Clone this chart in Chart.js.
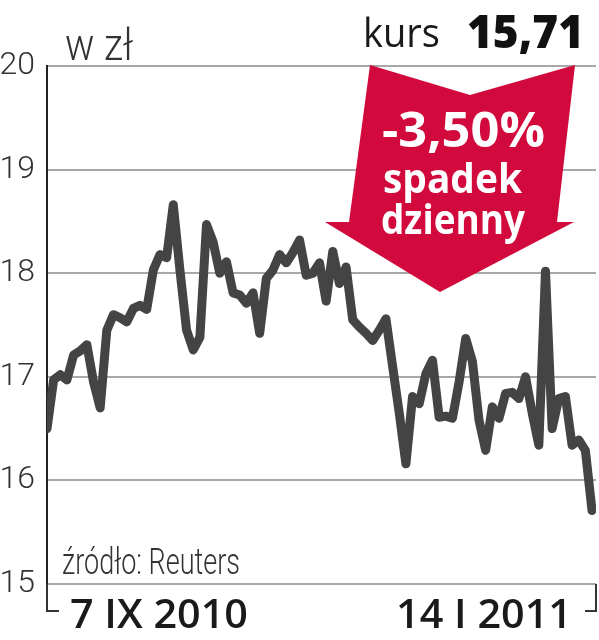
<!DOCTYPE html>
<html><head><meta charset="utf-8">
<script src="https://cdn.jsdelivr.net/npm/chart.js@4/dist/chart.umd.min.js"></script>
<style>html,body{margin:0;padding:0;background:#fff;}#wrap{position:relative;width:599px;height:640px;}</style>
</head><body><div id="wrap"><canvas id="c" width="599" height="640"></canvas></div>
<script>
// Closing prices, trading days 7 IX 2010 ... mid I 2011 (zł)
const prices = [
  16.50, 16.97, 17.02, 16.97, 17.21, 17.25, 17.31, 16.95, 16.70, 17.45,
  17.60, 17.57, 17.53, 17.66, 17.69, 17.65, 18.03, 18.18, 18.15, 18.66,
  18.03, 17.45, 17.26, 17.38, 18.47, 18.30, 18.00, 18.11, 17.81, 17.79,
  17.71, 17.81, 17.42, 17.95, 18.03, 18.18, 18.10, 18.20, 18.32, 17.98,
  18.00, 18.10, 17.73, 18.21, 17.90, 18.06, 17.55, 17.48, 17.42, 17.35,
  17.45, 17.56, 17.10, 16.65, 16.16, 16.81, 16.74, 17.03, 17.16, 16.61,
  16.62, 16.60, 16.95, 17.37, 17.15, 16.58, 16.29, 16.71, 16.60, 16.84,
  16.85, 16.79, 17.00, 16.65, 16.34, 18.02, 16.50, 16.79, 16.81, 16.34,
  16.39, 16.29, 15.71
];
const yTicks = [15, 16, 17, 18, 19, 20];
const dateLabels = ['7 IX 2010', '14 I 2011'];
const unitLabel = 'w zł';
const headerLabel = 'kurs';
const lastPrice = '15,71';
const changeLabel = '-3,50%';
const changeText = ['spadek', 'dzienny'];
const sourceLabel = 'źródło: Reuters';

const LIGHT = 'Roboto, "Liberation Sans", sans-serif';
const BOLDF = '"Open Sans", "Liberation Sans", sans-serif';

const points = prices.map((v, i) => ({x: i, y: v}));

function fitText(ctx, text, x, y, width) {
  const w = ctx.measureText(text).width;
  ctx.save();
  ctx.translate(x, y);
  ctx.scale(width / w, 1);
  ctx.fillText(text, 0, 0);
  ctx.restore();
}

const decor = {
  id: 'decor',
  afterDraw(chart) {
    const ctx = chart.ctx;
    const ca = chart.chartArea;
    ctx.save();
    // bracket below the time axis
    ctx.strokeStyle = '#333';
    ctx.lineWidth = 2;
    ctx.beginPath();
    ctx.moveTo(ca.left, ca.bottom); ctx.lineTo(ca.left, 611); ctx.lineTo(59, 611);
    ctx.moveTo(ca.right, ca.bottom); ctx.lineTo(ca.right, 611); ctx.lineTo(585, 611);
    ctx.stroke();

    // red arrow
    ctx.fillStyle = '#d2093c';
    ctx.beginPath();
    ctx.moveTo(370, 65); ctx.lineTo(470, 95); ctx.lineTo(575, 65);
    ctx.lineTo(557, 222); ctx.lineTo(574, 222); ctx.lineTo(440, 292);
    ctx.lineTo(325, 222); ctx.lineTo(349, 222); ctx.closePath();
    ctx.fill();

    ctx.fillStyle = '#fff';
    ctx.textAlign = 'left';
    ctx.textBaseline = 'alphabetic';
    ctx.font = 'bold 48px ' + BOLDF;
    fitText(ctx, changeLabel, 382, 147, 163);
    ctx.font = 'bold 42px ' + BOLDF;
    fitText(ctx, changeText[0], 383, 193, 139);
    fitText(ctx, changeText[1], 381, 234, 144);

    // header
    ctx.fillStyle = '#1a1a1a';
    ctx.font = '40px ' + BOLDF;
    fitText(ctx, headerLabel, 363, 47, 77);
    ctx.fillStyle = '#111';
    ctx.font = '800 46px ' + BOLDF;
    fitText(ctx, lastPrice, 467, 48, 117);

    // unit
    ctx.fillStyle = '#333';
    ctx.font = '300 44px ' + LIGHT;
    fitText(ctx, unitLabel, 65, 60, 68);

    // source
    ctx.font = '300 36px ' + LIGHT;
    fitText(ctx, sourceLabel, 62, 574, 178);

    // dates
    ctx.fillStyle = '#1a1a1a';
    ctx.font = '600 40px ' + BOLDF;
    fitText(ctx, dateLabels[0], 70, 628, 178);
    fitText(ctx, dateLabels[1], 396, 628, 176);
    ctx.restore();
  }
};

new Chart(document.getElementById('c'), {
  type: 'line',
  data: {
    datasets: [{
      data: points,
      borderColor: '#444444',
      borderWidth: 9,
      pointRadius: 0,
      tension: 0,
      borderJoinStyle: 'round',
      borderCapStyle: 'round',
      fill: false
    }]
  },
  options: {
    responsive: false,
    animation: false,
    devicePixelRatio: 1,
    layout: {padding: {top: 66, bottom: 56, left: 0, right: 3}},
    plugins: {legend: {display: false}, tooltip: {enabled: false}},
    scales: {
      x: {type: 'linear', min: 0, max: 82.6, display: false},
      y: {
        min: yTicks[0], max: yTicks[yTicks.length - 1],
        afterBuildTicks: s => { s.ticks = yTicks.map(v => ({value: v})); },
        afterFit: s => { s.width = 47; },
        ticks: {color: '#333', padding: 12, font: {family: LIGHT, size: 32, weight: 300}},
        grid: {color: '#a8a8a8', lineWidth: 2, drawTicks: false},
        border: {display: true, color: '#222', width: 2}
      }
    }
  },
  plugins: [decor]
});
</script></body></html>
